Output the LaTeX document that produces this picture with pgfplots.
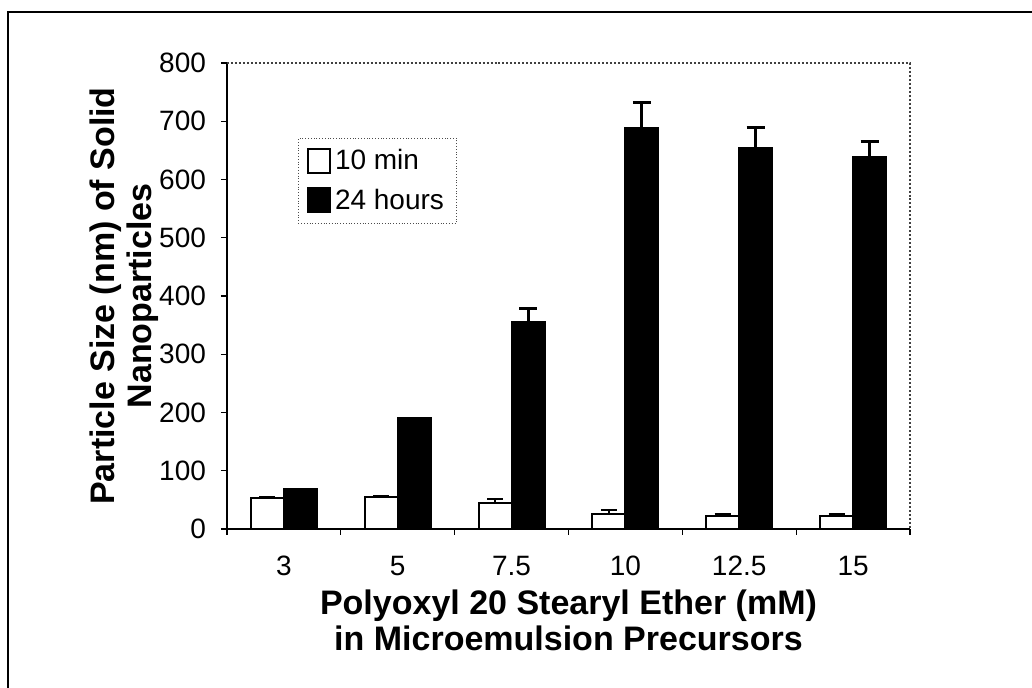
\documentclass[border=0pt]{standalone}
\usepackage{fontspec}
\setmainfont{Liberation Sans}
\usepackage{pgfplots}
\pgfplotsset{compat=1.18}
\begin{document}
\begin{tikzpicture}
\useasboundingbox (0,0) rectangle (516bp,344bp);
\draw[line width=1bp] (4bp,0) -- (4bp,338bp) -- (516bp,338bp);
\begin{axis}[
  at={(113.5bp,79.5bp)}, anchor=south west,
  width=341.5bp, height=233bp, scale only axis,
  xmin=-0.5, xmax=5.5, ymin=0, ymax=800,
  axis x line*=bottom, axis y line*=left,
  axis line style={line width=1bp, black, -},
  tick align=outside,
  major tick length=3bp,
  tick style={black, line width=0.6bp},
  ytick={0,100,...,800},
  xtick={-0.5,0.5,1.5,2.5,3.5,4.5,5.5}, xticklabels={},
  extra x ticks={0,1,2,3,4,5},
  extra x tick labels={3,5,7.5,10,12.5,15},
  extra x tick style={major tick length=0pt, tick style={draw=none}},
  /pgf/number format/assume math mode=true,
  ticklabel style={font=\fontsize{14bp}{16bp}\selectfont},
  yticklabel style={xshift=-4bp},
  xticklabel style={yshift=-10bp},
  ybar=0pt, bar width=16.5bp,
  xlabel={Polyoxyl 20 Stearyl Ether (mM)\\in Microemulsion Precursors},
  xlabel style={at={(axis description cs:0.5,0)}, anchor=north, yshift=-30bp,
    inner sep=0pt, align=center, font=\bfseries\fontsize{17bp}{18bp}\selectfont},
  ylabel={Particle Size (nm) of Solid\\Nanoparticles},
  ylabel style={at={(axis description cs:0,0.5)}, anchor=south, yshift=34bp,
    inner sep=0pt, align=center, font=\bfseries\fontsize{17bp}{18.5bp}\selectfont},
  legend style={at={(0.104,0.839)}, anchor=north west, draw=black!70, densely dotted,
    font=\fontsize{14bp}{16bp}\selectfont, inner xsep=4.5bp, inner ysep=4bp, row sep=5bp,
    nodes={inner xsep=1.8bp, inner ysep=1.5bp, solid}},
  legend cell align=left,
  clip=false,
]
\addplot+[ybar, bar shift=-8.25bp, draw=black, fill=white, line width=1bp,
  legend image code/.code={\draw[draw=black, fill=white, line width=1bp, solid] (0bp,-6bp) rectangle (11bp,6bp);},
  error bars/.cd, y dir=plus, y explicit,
  error bar style={line width=1.2bp, black, solid},
  error mark options={rotate=90, mark size=4bp, line width=1.2bp, black}]
  coordinates {(0,53) +- (0,1) (1,55) +- (0,1) (2,45) +- (0,7) (3,25) +- (0,8) (4,22) +- (0,4) (5,23) +- (0,3)};
\addlegendentry{10 min}
\addplot+[ybar, bar shift=8.25bp, draw=black, fill=black, line width=1bp,
  legend image code/.code={\draw[draw=black, fill=black, line width=1bp, solid] (0bp,-6bp) rectangle (11bp,6bp);},
  error bars/.cd, y dir=plus, y explicit,
  error bar style={line width=1.5bp, black, solid},
  error mark options={rotate=90, mark size=4.5bp, line width=1.5bp, black}]
  coordinates {(2,355) +- (0,24) (3,688) +- (0,45) (4,654) +- (0,36) (5,638) +- (0,27)};
\addlegendentry{24 hours}
\addplot+[ybar, bar shift=8.25bp, draw=black, fill=black, line width=1bp, forget plot]
  coordinates {(0,68) (1,191)};
\draw[line width=1bp, black!75, densely dotted] (rel axis cs:0,1) -- (rel axis cs:1,1) -- (rel axis cs:1,0);
\end{axis}
\end{tikzpicture}
\end{document}
